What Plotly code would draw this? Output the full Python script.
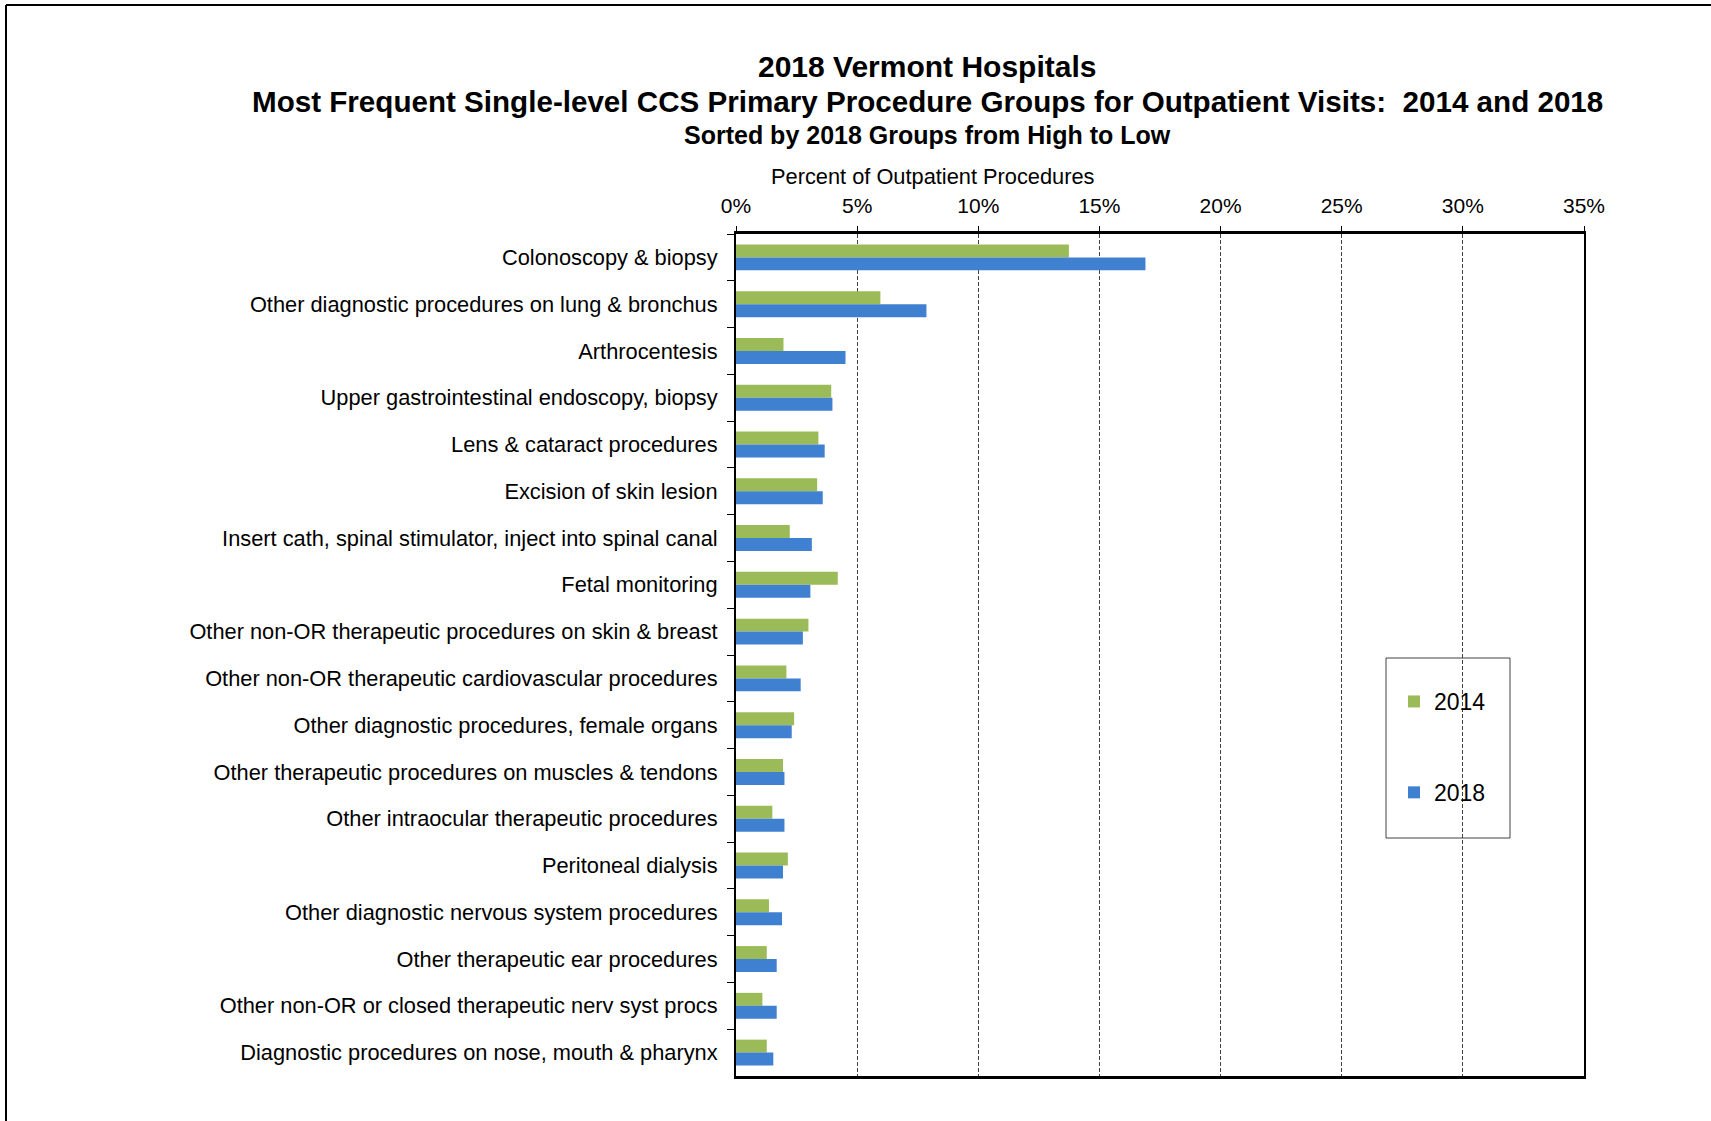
import plotly.graph_objects as go

categories = [
    "Colonoscopy & biopsy",
    "Other diagnostic procedures on lung & bronchus",
    "Arthrocentesis",
    "Upper gastrointestinal endoscopy, biopsy",
    "Lens & cataract procedures",
    "Excision of skin lesion",
    "Insert cath, spinal stimulator, inject into spinal canal",
    "Fetal monitoring",
    "Other non-OR therapeutic procedures on skin & breast",
    "Other non-OR therapeutic cardiovascular procedures",
    "Other diagnostic procedures, female organs",
    "Other therapeutic procedures on muscles & tendons",
    "Other intraocular therapeutic procedures",
    "Peritoneal dialysis",
    "Other diagnostic nervous system procedures",
    "Other therapeutic ear procedures",
    "Other non-OR or closed therapeutic nerv syst procs",
    "Diagnostic procedures on nose, mouth & pharynx",
]
pct_2014 = [13.74, 5.96, 1.96, 3.93, 3.40, 3.35, 2.22, 4.20, 2.99, 2.08,
            2.40, 1.94, 1.50, 2.14, 1.36, 1.27, 1.09, 1.27]
pct_2018 = [16.90, 7.86, 4.52, 3.98, 3.66, 3.58, 3.13, 3.07, 2.76, 2.67,
            2.30, 2.00, 2.00, 1.94, 1.90, 1.68, 1.68, 1.54]
x_ticks = [0, 5, 10, 15, 20, 25, 30, 35]
x_tick_labels = [f"{v}%" for v in x_ticks]

FONT = "Liberation Sans, Arial, sans-serif"

fig = go.Figure()
fig.add_trace(go.Bar(y=categories, x=pct_2014, orientation="h", name="2014",
                     marker=dict(color="#9BBB59", line=dict(width=0)),
                     legendgroup="a"))
fig.add_trace(go.Bar(y=categories, x=pct_2018, orientation="h", name="2018",
                     marker=dict(color="#4080D0", line=dict(width=0)),
                     legendgroup="b"))

W, H = 1711, 1121
L, R, T, B = 736, 1584, 234, 1076

def px(xp):
    return (xp - L) / (R - L)

def py(yp):
    return (B - yp) / (B - T)

annotations = [
    dict(text="<b>2018 Vermont Hospitals</b>", x=px(927), y=py(67), font=dict(size=30)),
    dict(text="<b>Most Frequent Single-level CCS Primary Procedure Groups for Outpatient Visits:  2014 and 2018</b>",
         x=px(927), y=py(102), font=dict(size=29.6)),
    dict(text="<b>Sorted by 2018 Groups from High to Low</b>", x=px(927), y=py(135), font=dict(size=25)),
    dict(text="Percent of Outpatient Procedures", x=px(933), y=py(176), font=dict(size=21.8)),
]
for a in annotations:
    a.update(xref="paper", yref="paper", showarrow=False, xanchor="center", yanchor="middle")
    a["font"].update(family=FONT, color="black")

shapes = [
    # outer frame
    dict(type="line", xref="paper", yref="paper", x0=px(6), x1=px(W + 10), y0=py(5), y1=py(5),
         line=dict(color="black", width=2)),
    dict(type="line", xref="paper", yref="paper", x0=px(6), x1=px(6), y0=py(5), y1=py(H + 10),
         line=dict(color="black", width=2)),
    # legend box
    dict(type="rect", xref="paper", yref="paper", x0=px(1386), x1=px(1510), y0=py(658), y1=py(838),
         line=dict(color="#404040", width=1), fillcolor="white", layer="below"),
]

fig.update_layout(
    width=W, height=H,
    margin=dict(l=L, r=W - R, t=T, b=H - B, pad=0),
    paper_bgcolor="white", plot_bgcolor="rgba(0,0,0,0)",
    barmode="group", bargap=0.445, bargroupgap=0,
    font=dict(family=FONT, color="black", size=20),
    showlegend=True,
    legend=dict(x=px(1394), y=py(680), xanchor="left", yanchor="top",
                bgcolor="rgba(0,0,0,0)", borderwidth=0,
                font=dict(size=23, family=FONT, color="black"),
                tracegroupgap=58, traceorder="grouped"),
    annotations=annotations,
    shapes=shapes,
)
fig.update_xaxes(
    side="top", range=[0, 35], tickvals=x_ticks, ticktext=x_tick_labels,
    tickfont=dict(size=21), ticks="outside", ticklen=5, tickcolor="black",
    ticklabelstandoff=5,
    showgrid=True, gridcolor="#404040", gridwidth=1, griddash="4px,2px",
    showline=True, linecolor="black", linewidth=3, mirror=True, zeroline=False,
    fixedrange=True,
)
fig.update_yaxes(
    type="category", categoryorder="array", categoryarray=categories,
    autorange="reversed", tickfont=dict(size=21.8), ticks="outside", ticklen=7,
    tickcolor="black", tickson="boundaries", ticklabelstandoff=12,
    showline=True, linecolor="black", linewidth=2, mirror=True, showgrid=False,
)

fig.write_html("out.html")
